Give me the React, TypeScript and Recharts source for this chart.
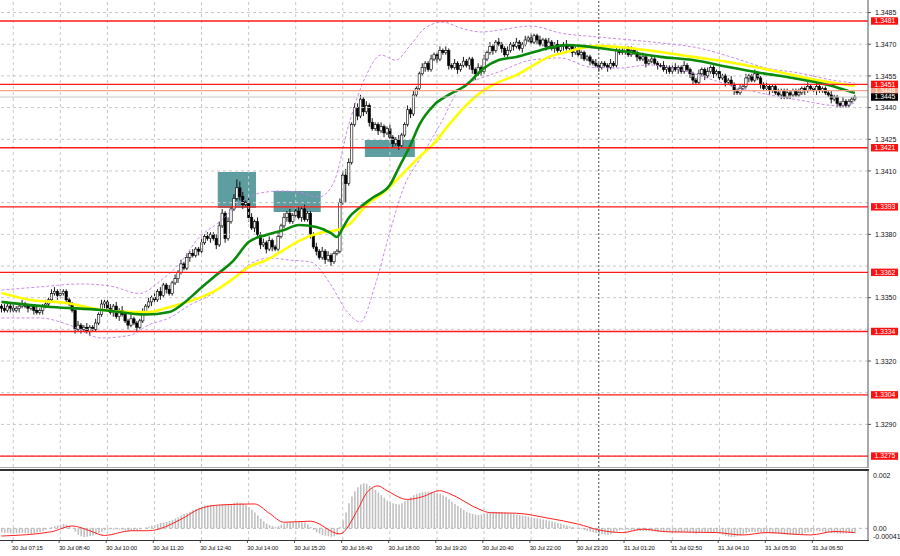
import React from 'react';
import { ComposedChart, Bar, Line, XAxis, YAxis, ReferenceLine, ReferenceArea } from 'recharts';

// prices are in units of 0.0001 above 1.0000 (3445 -> 1.3445)
const closes = [
  3345, 3344, 3346, 3345, 3344, 3345, 3346, 3347, 3346, 3345,
  3346, 3344, 3343, 3344, 3346, 3347, 3349, 3352, 3353, 3351,
  3352, 3353, 3349, 3347, 3344, 3335, 3337, 3335, 3336, 3334,
  3336, 3335, 3338, 3342, 3347, 3348, 3345, 3343, 3346, 3341,
  3344, 3342, 3339, 3337, 3340, 3338, 3336, 3339, 3343, 3346,
  3348, 3350, 3349, 3353, 3351, 3356, 3354, 3352, 3357, 3359,
  3362, 3366, 3364, 3369, 3371, 3370, 3373, 3372, 3376, 3379,
  3378, 3380, 3378, 3375, 3384, 3390, 3378, 3386, 3392, 3397,
  3402, 3398, 3394, 3395, 3388, 3383, 3386, 3380, 3375, 3376,
  3373, 3377, 3374, 3373, 3379, 3384, 3388, 3390, 3386, 3389,
  3391, 3388, 3392, 3387, 3390, 3380, 3374, 3372, 3369, 3372,
  3368, 3370, 3367, 3371, 3372, 3395, 3408, 3404, 3414, 3432,
  3440, 3436, 3444, 3438, 3441, 3433, 3430, 3432, 3429, 3431,
  3428, 3430, 3426, 3423, 3425, 3422, 3427, 3432, 3439, 3437,
  3446, 3449, 3456, 3459, 3461, 3458, 3463, 3465, 3463, 3467,
  3466, 3467, 3460, 3459, 3461, 3458, 3460, 3462, 3460, 3463,
  3458, 3456, 3459, 3457, 3463, 3466, 3469, 3467, 3471, 3470,
  3468, 3465, 3467, 3470, 3469, 3471, 3468, 3470, 3472, 3473,
  3471, 3474, 3472, 3470, 3472, 3469, 3471, 3468, 3470, 3467,
  3469, 3470, 3468, 3469, 3466, 3468, 3465, 3466, 3463, 3464,
  3462, 3461, 3460, 3459, 3461, 3460, 3459, 3461, 3460, 3467,
  3466, 3467, 3468, 3465, 3467, 3466, 3464, 3463, 3464, 3461,
  3462, 3463, 3461, 3460, 3460, 3458, 3459, 3457, 3459, 3458,
  3459, 3457, 3460, 3458, 3456, 3453, 3452, 3456, 3458, 3455,
  3457, 3459, 3456, 3457, 3454, 3455, 3452, 3453, 3451, 3448,
  3447, 3449, 3450, 3454, 3455, 3453, 3456, 3454, 3451, 3449,
  3450, 3448, 3450, 3447, 3446, 3448, 3445, 3447, 3446, 3448,
  3446, 3447, 3449, 3448, 3450, 3449, 3448, 3450, 3448, 3449,
  3447, 3446, 3444, 3445, 3442, 3441, 3443, 3441, 3443, 3444, 3445,
];
const firstOpen = 3346;

const hiExt = [
  1, 2, 1, 1, 2, 1, 1, 2, 1, 1,
  1, 1, 2, 1, 1, 2, 1, 2, 2, 1,
  2, 1, 1, 1, 1, 1, 2, 1, 1, 2,
  1, 1, 2, 1, 2, 1, 1, 2, 1, 2,
  1, 2, 1, 1, 2, 1, 1, 1, 2, 1,
  2, 1, 2, 1, 2, 1, 1, 2, 1, 2,
  1, 2, 1, 2, 1, 2, 1, 1, 2, 1,
  2, 1, 1, 2, 2, 2, 1, 2, 1, 2,
  4, 3, 2, 1, 2, 2, 1, 2, 1, 2,
  1, 2, 1, 1, 2, 1, 2, 1, 2, 1,
  2, 2, 1, 2, 1, 1, 1, 2, 1, 2,
  1, 2, 1, 1, 1, 2, 2, 3, 2, 1,
  2, 2, 2, 1, 2, 1, 2, 1, 1, 2,
  1, 1, 2, 1, 1, 2, 1, 1, 2, 1,
  2, 1, 1, 2, 1, 1, 2, 1, 1, 2,
  1, 2, 1, 1, 2, 1, 1, 2, 1, 1,
  1, 1, 2, 1, 2, 1, 2, 1, 1, 2,
  1, 1, 2, 1, 1, 2, 1, 1, 2, 1,
  2, 1, 1, 2, 1, 1, 2, 1, 1, 2,
  1, 1, 2, 1, 1, 1, 2, 1, 1, 1,
  1, 1, 2, 1, 1, 1, 1, 2, 1, 2,
  1, 2, 1, 1, 2, 1, 1, 1, 2, 1,
  1, 2, 1, 1, 1, 2, 1, 1, 1, 2,
  1, 1, 2, 1, 1, 1, 1, 2, 1, 1,
  2, 1, 1, 1, 2, 1, 1, 1, 2, 1,
  1, 2, 1, 2, 1, 1, 2, 1, 1, 1,
  2, 1, 1, 1, 2, 1, 1, 2, 1, 1,
  1, 2, 1, 1, 2, 1, 1, 2, 1, 1,
  1, 1, 2, 1, 1, 1, 2, 1, 1, 1, 1,
];
const loExt = [
  2, 1, 1, 2, 1, 1, 2, 1, 1, 2,
  1, 2, 1, 1, 2, 1, 1, 1, 1, 2,
  1, 1, 2, 1, 1, 2, 1, 2, 1, 1,
  2, 1, 1, 1, 1, 2, 1, 1, 2, 1,
  2, 1, 1, 2, 1, 1, 2, 1, 1, 1,
  1, 2, 1, 1, 2, 1, 2, 1, 1, 1,
  2, 1, 1, 1, 2, 1, 1, 2, 1, 1,
  1, 2, 1, 2, 1, 1, 2, 1, 1, 1,
  1, 2, 2, 1, 2, 1, 2, 1, 2, 1,
  2, 1, 2, 1, 1, 1, 1, 2, 1, 1,
  1, 1, 2, 1, 1, 2, 1, 2, 1, 1,
  2, 1, 2, 1, 1, 1, 1, 9, 1, 1,
  1, 2, 1, 2, 1, 2, 1, 1, 2, 1,
  2, 1, 1, 2, 1, 2, 1, 1, 1, 2,
  1, 1, 1, 1, 2, 1, 1, 1, 2, 1,
  1, 1, 2, 1, 1, 2, 1, 1, 1, 2,
  2, 3, 1, 2, 1, 1, 1, 2, 1, 1,
  2, 1, 1, 1, 2, 1, 1, 2, 1, 1,
  1, 1, 2, 1, 1, 2, 1, 1, 2, 1,
  1, 2, 1, 1, 2, 1, 1, 2, 1, 1,
  2, 1, 1, 2, 1, 1, 2, 1, 1, 1,
  1, 1, 2, 1, 1, 1, 2, 1, 1, 2,
  1, 1, 1, 2, 1, 1, 2, 1, 1, 1,
  2, 1, 1, 1, 2, 2, 1, 1, 1, 2,
  1, 1, 2, 1, 1, 1, 2, 1, 1, 2,
  1, 1, 1, 1, 2, 1, 1, 1, 2, 1,
  1, 2, 1, 1, 1, 2, 1, 1, 2, 1,
  1, 1, 1, 2, 1, 1, 1, 2, 1, 1,
  1, 1, 2, 1, 2, 1, 1, 1, 1, 1, 1,
];

// moving averages / bands: [bar index, price]
const maGreenPts: [number, number][] = [
  [0, 3348], [17, 3345.6], [34, 3344.2], [49, 3342], [57, 3343.2], [62, 3347.5], [67, 3353.6],
  [73, 3360.7], [79, 3367.8], [84, 3376.4], [90, 3379.7], [96, 3382], [101, 3384.4], [107, 3383.5],
  [112, 3380.6], [114, 3378.7], [116, 3383], [118, 3387.7], [122, 3392.9], [126, 3397.2],
  [132, 3403.3], [135, 3411.4], [139, 3422.3], [142, 3431.8], [147, 3441.2], [152, 3446],
  [158, 3450.7], [164, 3458.7], [169, 3462.5], [175, 3464], [181, 3466.3], [186, 3468.2],
  [192, 3469.6], [197, 3469.2], [203, 3468.2], [213, 3466.3], [224, 3464], [235, 3462.5],
  [247, 3459.2], [258, 3456.4], [269, 3454], [281, 3450.7], [290, 3446.9],
];
const maYellowPts: [number, number][] = [
  [0, 3352.2], [10, 3348.9], [22, 3347.5], [34, 3344.2], [45, 3343.2], [50, 3343.2], [56, 3345.1],
  [62, 3347.5], [67, 3349.8], [73, 3353.6], [79, 3359.3], [84, 3364.5], [90, 3367.8], [96, 3372.6],
  [101, 3376.8], [108, 3380.6], [114, 3382], [118, 3384.5], [124, 3393.9], [130, 3400],
  [135, 3406.7], [142, 3416.6], [147, 3423], [152, 3431.8], [158, 3441.2], [164, 3448.3],
  [169, 3452.1], [175, 3455.4], [181, 3460.2], [186, 3464], [192, 3466.3], [197, 3468.2],
  [203, 3469.2], [213, 3468.2], [224, 3466.3], [235, 3464], [247, 3461.6], [258, 3458.7],
  [269, 3455.4], [281, 3452.1], [290, 3450.2],
];
const bbUpperPts: [number, number][] = [
  [0, 3353.6], [13, 3355.1], [27, 3356.5], [37, 3355.5], [47, 3352], [54, 3358], [61, 3366.9],
  [67, 3378.3], [74, 3385.8], [81, 3394.8], [88, 3399.6], [95, 3400.5], [101, 3400], [108, 3397.7],
  [113, 3404.8], [118, 3431.8], [124, 3455.4], [129, 3464.9], [134, 3462.5], [139, 3469.6],
  [144, 3477.7], [150, 3480.5], [156, 3477.7], [163, 3475.8], [169, 3476.7], [180, 3478.6],
  [190, 3475.3], [203, 3473.4], [224, 3470.6], [237, 3468.2], [249, 3463.5], [260, 3458.7],
  [271, 3456.4], [282, 3453.1], [290, 3451.6],
];
const bbLowerPts: [number, number][] = [
  [0, 3340.4], [13, 3340.4], [23, 3337.1], [34, 3330.9], [44, 3332.3], [50, 3337.1], [57, 3340.4],
  [64, 3346.5], [71, 3351.3], [78, 3358.4], [84, 3365.5], [91, 3368.8], [98, 3367.8], [105, 3366.9],
  [112, 3356], [117, 3344.2], [122, 3338.5], [127, 3356], [132, 3381.1], [137, 3403.3],
  [142, 3415.2], [149, 3431.8], [156, 3449.3], [163, 3454], [169, 3456.9], [180, 3462.5],
  [190, 3463.5], [200, 3459.2], [210, 3458.7], [220, 3460.2], [231, 3457.8], [244, 3452.1],
  [258, 3446.9], [271, 3443.6], [285, 3440.8], [290, 3442.2],
];

// MACD histogram (units of 0.00001) per bar, and signal line points
const macdHist = [
  -16, -18, -17, -19, -20, -19, -18, -17, -18, -19, -20, -18, -16, -14, -10,
  -5, 0, 4, 8,
  11, 14, 16, 14, 10,
  2, -12,
  -24, -30, -33, -32, -30, -27, -22, -18,
  -12, -8, -6, -4, -6, -4, -5, -6, -8, -10, -9, -8, -6, -3, 0, 3, 6,
  10, 13, 16, 20, 22, 24, 28,
  32, 37, 42, 48, 54, 58, 63,
  68, 73, 78,
  82, 86, 88, 89, 88, 87, 88, 89, 88, 90,
  92, 95, 97, 96, 94,
  88, 80, 70, 60,
  48, 36, 26, 18, 12,
  8, 5, 8,
  14, 18, 22, 24, 25, 25, 24, 23, 22,
  15, 5, -6,
  -15, -20, -25, -28, -30, -32, -30, -25,
  5,
  30,
  60, 95, 120, 140,
  155, 165, 170,
  168, 160, 152, 145,
  135, 125, 115, 105, 98,
  95, 92, 90,
  95, 102, 110, 118, 125,
  130, 133, 136, 138, 138, 137, 135, 133, 130,
  125, 118, 110, 100, 92, 85,
  78, 70, 63, 58, 54, 52,
  50, 52, 55, 57, 58,
  60, 62, 62, 61, 60, 58, 56, 54, 52, 50,
  48, 46, 44, 42, 40, 37, 35, 33, 31, 29,
  26, 23, 20, 17, 14, 11, 8, 5, 2, 0,
  -3, -6, -9, -12, -15, -18, -20,
  -22, -24, -25, -22, -18,
  -12, -8, -6, -6, -7, -8, -8, -9, -10,
  -10, -11, -11, -12, -12, -13, -13,
  -14, -14, -15, -15, -16, -15, -15, -14, -15, -16, -18, -20, -18, -16, -15, -15, -14, -15, -17, -20,
  -24, -28, -31, -33, -32, -30, -27, -22,
  -18, -14, -13, -14, -15, -16, -16, -17, -18, -19, -20, -21,
  -22, -23, -24, -25, -25, -24, -23, -21, -18, -15,
  -12, -10, -9, -10, -12, -14, -16,
  -18, -19, -20, -21, -20, -19, -18, -18, -19,
];
const signalPts: [number, number][] = [
  [0, -29], [17, -13], [24, 9], [30, -9], [35, -27], [44, -9], [50, -9], [61, 34], [67, 72],
  [74, 88], [86, 92], [91, 57], [96, 23], [105, 27], [115, -21], [121, 69], [124, 132],
  [128, 160], [131, 142], [138, 109], [143, 119], [149, 142], [152, 132], [163, 69], [166, 59],
  [175, 57], [186, 38], [196, 16], [203, -6], [211, -16], [218, -3], [226, -13], [243, -16],
  [252, -25], [260, -16], [275, -25], [283, -12], [290, -16],
];

const TOTAL_SLOTS = 295;
const timeTickIdx = [4, 20, 36, 52, 68, 84, 100, 116, 132, 148, 164, 180, 196, 212, 228, 244, 260, 276];
const timeLabels = [
  '30 Jul 07:15', '30 Jul 08:40', '30 Jul 10:00', '30 Jul 11:20', '30 Jul 12:40', '30 Jul 14:00',
  '30 Jul 15:20', '30 Jul 16:40', '30 Jul 18:00', '30 Jul 19:20', '30 Jul 20:40', '30 Jul 22:00',
  '30 Jul 23:20', '31 Jul 01:20', '31 Jul 02:50', '31 Jul 04:10', '31 Jul 05:30', '31 Jul 06:50',
];
const daySeparatorIdx = 203;
const gridPrices = [3485, 3470, 3455, 3440, 3425, 3410, 3395, 3380, 3365, 3350, 3335, 3320, 3305, 3290, 3275];
const priceTickLabels = [3485, 3470, 3455, 3440, 3425, 3410, 3380, 3350, 3320, 3290];
const redLevels = [3481, 3451, 3421, 3393, 3362, 3334, 3304, 3275];
const askLevel = 3448;
const bidLevel = 3445;
const zoneStart = [74, 93, 124];
const zoneEnd = [86, 108, 140];
const zoneLow = [3392.5, 3390.6, 3416.6];
const zoneHigh = [3409.5, 3400.5, 3424.7];
const macdTicks = [200, 0, -41];
const macdTickText = ['0.002', '0.00', '-0.00041'];

const rows: any[] = Array.from({ length: TOTAL_SLOTS }, (_, i) => ({ i }));
closes.forEach((c, i) => {
  const o = i === 0 ? firstOpen : closes[i - 1];
  const hi = Math.max(o, c) + (hiExt[i] ?? 1);
  const lo = Math.min(o, c) - (loExt[i] ?? 1);
  Object.assign(rows[i], { o, c, hi, lo, rng: [lo, hi], macd: macdHist[i] });
});
const toSeries = (pts: [number, number][]) => pts.map(([i, v]) => ({ i, v }));
const greenData = toSeries(maGreenPts);
const yellowData = toSeries(maYellowPts);
const bbUData = toSeries(bbUpperPts);
const bbLData = toSeries(bbLowerPts);
const sigData = toSeries(signalPts);

const FONT = '"Liberation Sans", Arial, sans-serif';
const PLOT_RIGHT = 868;
const fmt = (v: number) => (1 + v / 10000).toFixed(4);

const Candle = (props: any) => {
  const { x, y, width, height, payload } = props;
  if (!payload || payload.c == null) return null;
  const top = Math.min(y, y + height);
  const h = Math.abs(height);
  const { o, c, hi, lo } = payload;
  const pix = (v: number) => top + ((hi - v) / (hi - lo)) * h;
  const cx = x + width / 2;
  const bTop = pix(Math.max(o, c));
  let bBot = pix(Math.min(o, c));
  if (bBot - bTop < 0.8) bBot = bTop + 0.8;
  const bull = c > o;
  return (
    <g>
      <line x1={cx} x2={cx} y1={top} y2={top + h} stroke="#000" strokeWidth={0.9} />
      <rect x={cx - 1.2} y={bTop} width={2.4} height={bBot - bTop} fill={bull ? '#fff' : '#000'} stroke="#000" strokeWidth={0.6} />
    </g>
  );
};

const PriceTick = (props: any) => {
  const { y, payload } = props;
  const v = payload.value;
  const isRed = redLevels.includes(v);
  if (isRed || v === askLevel || v === bidLevel) {
    const fill = isRed ? '#ff1010' : v === askLevel ? '#f7a486' : '#000';
    return (
      <g>
        <rect x={871} y={y - 3.7} width={27} height={7.4} fill={fill} />
        <text x={874.5} y={y + 2.4} fontSize={6.8} fill="#fff" fontFamily={FONT}>{fmt(v)}</text>
      </g>
    );
  }
  return (
    <g>
      <line x1={PLOT_RIGHT} x2={PLOT_RIGHT + 3} y1={y} y2={y} stroke="#555" strokeWidth={1} />
      <text x={875} y={y + 2.6} fontSize={7} fill="#111" fontFamily={FONT}>{fmt(v)}</text>
    </g>
  );
};

const MacdTick = (props: any) => {
  const { y, payload } = props;
  const k = macdTicks.indexOf(payload.value);
  const dy = payload.value === -41 ? -0.5 : 2.4;
  return (
    <text x={873} y={y + dy} fontSize={7} fill="#111" fontFamily={FONT}>{macdTickText[k]}</text>
  );
};

const TimeTick = (props: any) => {
  const { x, payload } = props;
  const k = timeTickIdx.indexOf(payload.value);
  if (k < 0) return null;
  return (
    <g>
      <line x1={x - 1.2} x2={x - 1.2} y1={70} y2={73} stroke="#555" strokeWidth={1} />
      <text x={x - 1.4} y={80} fontSize={6} fill="#111" fontFamily={FONT} letterSpacing={-0.15}>{timeLabels[k]}</text>
    </g>
  );
};

const lineCommon = { type: 'monotone' as const, dataKey: 'v', dot: false, activeDot: false, isAnimationActive: false, legendType: 'none' as const };

export default function App() {
  return (
    <div style={{ position: 'fixed', left: 0, top: 0, width: 900, height: 556, background: '#fff', overflow: 'hidden' }}>
      <div style={{ position: 'absolute', left: 0, top: 0 }}>
        <ComposedChart width={900} height={467} data={rows} margin={{ top: 0, right: 0, bottom: 0, left: 0 }} barCategoryGap={0}>
          <XAxis dataKey="i" type="category" hide allowDuplicatedCategory={false} />
          <YAxis
            orientation="right"
            width={32}
            type="number"
            domain={[3269.83, 3490.94]}
            allowDataOverflow
            ticks={[...priceTickLabels, askLevel, ...redLevels, bidLevel]}
            interval={0}
            tickLine={false}
            axisLine={{ stroke: '#555' }}
            tick={PriceTick}
          />
          {gridPrices.map((p) => (
            <ReferenceLine key={'gp' + p} y={p} stroke="#c8c8c8" strokeDasharray="3 3" />
          ))}
          {timeTickIdx.map((t) => (
            <ReferenceLine key={'gt' + t} x={t} stroke="#c8c8c8" strokeDasharray="3 3" />
          ))}
          <ReferenceLine x={daySeparatorIdx} stroke="#444" strokeDasharray="2 2" />
          {zoneStart.map((s, k) => (
            <ReferenceArea key={'z' + k} x1={s} x2={zoneEnd[k]} y1={zoneLow[k]} y2={zoneHigh[k]} fill="#5f9ea0" fillOpacity={1} stroke="none" />
          ))}
          <Bar dataKey={(d: any) => d.rng} shape={Candle} isAnimationActive={false} />
          <Line {...lineCommon} data={bbUData} stroke="#c27ee6" strokeWidth={0.9} strokeDasharray="3 2" />
          <Line {...lineCommon} data={bbLData} stroke="#c27ee6" strokeWidth={0.9} strokeDasharray="3 2" />
          <Line {...lineCommon} data={yellowData} stroke="#ffff00" strokeWidth={2.6} />
          <Line {...lineCommon} data={greenData} stroke="#0a8a0a" strokeWidth={2.6} />
          {redLevels.map((p) => (
            <ReferenceLine key={'r' + p} y={p} stroke="#ff1a1a" strokeWidth={1.4} />
          ))}
          <ReferenceLine y={askLevel} stroke="#f7a486" strokeWidth={1.2} />
          <ReferenceLine y={bidLevel} stroke="#c8c8c8" strokeWidth={1} />
        </ComposedChart>
      </div>
      <div style={{ position: 'absolute', left: 0, top: 467, width: 869, height: 1, background: '#aaa' }} />
      <div style={{ position: 'absolute', left: 0, top: 469, width: 869, height: 1.5, background: '#333' }} />
      <div style={{ position: 'absolute', left: 0, top: 470 }}>
        <ComposedChart width={900} height={86} data={rows} margin={{ top: 0, right: 0, bottom: 0, left: 0 }} barCategoryGap={0}>
          <XAxis dataKey="i" type="category" allowDuplicatedCategory={false} ticks={timeTickIdx} interval={0} height={16} tickLine={false} axisLine={false} tick={TimeTick} />
          <YAxis
            orientation="right"
            width={32}
            type="number"
            domain={[-44, 220]}
            allowDataOverflow
            ticks={macdTicks}
            interval={0}
            tickLine={false}
            axisLine={{ stroke: '#555' }}
            tick={MacdTick}
          />
          {timeTickIdx.map((t) => (
            <ReferenceLine key={'mt' + t} x={t} stroke="#c8c8c8" strokeDasharray="3 3" />
          ))}
          <ReferenceLine x={daySeparatorIdx} stroke="#444" strokeDasharray="2 2" />
          <ReferenceLine y={0} stroke="#b8b8b8" strokeDasharray="3 3" />
          <Bar dataKey="macd" fill="#c0c0c0" barSize={1.6} isAnimationActive={false} />
          <Line {...lineCommon} data={sigData} stroke="#ff2020" strokeWidth={1} />
        </ComposedChart>
      </div>
      <div style={{ position: 'absolute', left: 0, top: 540, width: 869, height: 1, background: '#333' }} />
    </div>
  );
}
